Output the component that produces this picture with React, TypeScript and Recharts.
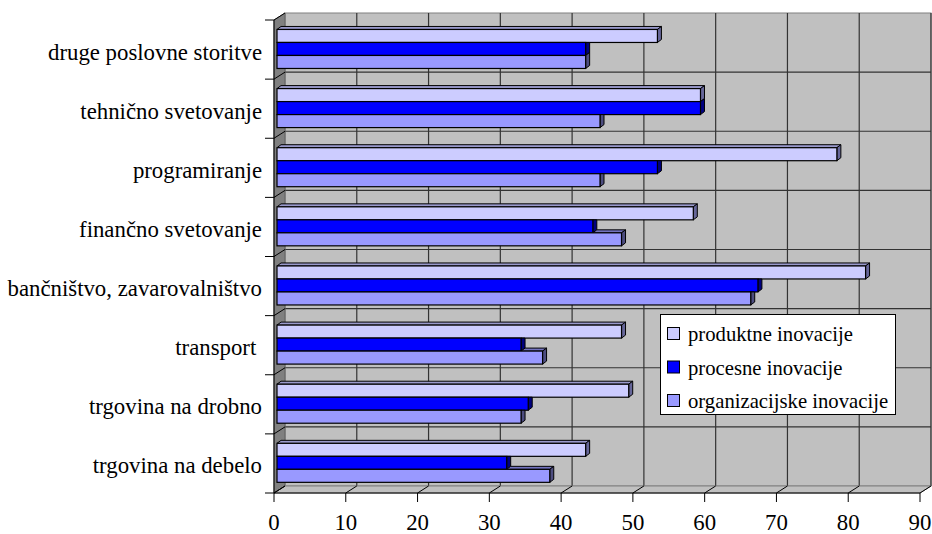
import React from 'react';
import { BarChart, Bar, XAxis, YAxis, ReferenceArea, Legend } from 'recharts';

const categories = [
  'druge poslovne storitve',
  'tehnično svetovanje',
  'programiranje',
  'finančno svetovanje',
  'bančništvo, zavarovalništvo',
  'transport ',
  'trgovina na drobno',
  'trgovina na debelo',
];
const produktne = [53, 59, 78, 58, 82, 48, 49, 43];
const procesne = [43, 59, 53, 44, 67, 34, 35, 32];
const organizacijske = [43, 45, 45, 48, 66, 37, 34, 38];
const xTicks = [0, 10, 20, 30, 40, 50, 60, 70, 80, 90];
const seriesNames = ['produktne inovacije', 'procesne inovacije', 'organizacijske inovacije'];

const data = categories.map((name, i) => ({
  name,
  produktne: produktne[i],
  procesne: procesne[i],
  organizacijske: organizacijske[i],
}));

const FONT = 'Liberation Serif, Times New Roman, DejaVu Serif, serif';
const XMAX = 90;
// 3D look: front edge sits left of the plot, back wall right/up of it
const FRONT = 3;
const BACK_DX = 8;
const BACK_DY = 7;
// bar depth
const DX = 4;
const DY = 3;

function Walls(props: any) {
  const { x, y, width, height } = props;
  const n = categories.length;
  const band = height / n;
  const fx = x - FRONT;
  const bx = x + BACK_DX;
  const by = y - BACK_DY;
  const bottom = y + height;
  const bb = bottom - BACK_DY;
  const px = (t: number) => (t / XMAX) * width;
  const bounds = Array.from({ length: n + 1 }, (_, j) => j);

  return (
    <g>
      <rect x={bx} y={by} width={width} height={height} fill="#c0c0c0" stroke="#808080" />
      {xTicks.slice(1).map((t) => (
        <line key={'v' + t} x1={bx + px(t)} x2={bx + px(t)} y1={by} y2={bb} stroke="#333" strokeWidth={1.2} />
      ))}
      {bounds.slice(1, n).map((j) => (
        <line key={'h' + j} x1={bx} x2={bx + width} y1={by + j * band} y2={by + j * band} stroke="#333" strokeWidth={1.2} />
      ))}
      <polygon
        points={`${fx},${y} ${bx},${by} ${bx},${bb} ${fx},${bottom}`}
        fill="#808080"
        stroke="#606060"
      />
      <polygon
        points={`${fx},${bottom} ${bx},${bb} ${bx + width},${bb} ${fx + width},${bottom}`}
        fill="#c0c0c0"
        stroke="#808080"
      />
      {xTicks.map((t) => (
        <g key={'f' + t}>
          <line x1={fx + px(t)} y1={bottom} x2={bx + px(t)} y2={bb} stroke="#000" />
          <line x1={fx + px(t)} y1={bottom} x2={fx + px(t)} y2={bottom + 9} stroke="#000" />
        </g>
      ))}
      {bounds.map((j) => (
        <g key={'s' + j}>
          <line x1={fx} y1={y + j * band} x2={bx} y2={by + j * band} stroke="#000" />
          <line x1={fx - 9} y1={y + j * band} x2={fx} y2={y + j * band} stroke="#000" />
        </g>
      ))}
      <line x1={fx} y1={y} x2={fx} y2={bottom} stroke="#000" />
      <line x1={fx} y1={bottom} x2={fx + width} y2={bottom} stroke="#000" />
    </g>
  );
}

function barShape(front: string, top: string, side: string, aboveKey?: string) {
  return (props: any) => {
    const { x, y, width, height, payload, value } = props;
    const v = Array.isArray(value) ? value[1] - value[0] : value;
    const ppu = v ? width / v : 0;
    const aboveW = aboveKey ? payload[aboveKey] * ppu : -1;
    const r = x + width;
    const b = y + height;
    const x0 = aboveKey ? x + Math.max(aboveW, 0) : x;
    const showTop = aboveW < width;
    const endPts =
      aboveW > width
        ? `${r},${y} ${r + DX},${y} ${r + DX},${b - DY} ${r},${b}`
        : `${r},${y} ${r + DX},${y - DY} ${r + DX},${b - DY} ${r},${b}`;
    return (
      <g>
        {showTop && (
          <polygon
            points={`${x0},${y} ${r},${y} ${r + DX},${y - DY} ${x0 + DX},${y - DY}`}
            fill={top}
            stroke="#000"
            strokeWidth={1}
          />
        )}
        <polygon points={endPts} fill={side} stroke="#000" strokeWidth={1} />
        <rect x={x} y={y} width={width} height={height} fill={front} stroke="#000" strokeWidth={1.2} />
      </g>
    );
  };
}

const CategoryTick = (props: any) => {
  const { x, y, payload } = props;
  return (
    <text
      x={x}
      y={y + 10}
      textAnchor="end"
      fontSize={22.8}
      fill="#000"
      style={{ whiteSpace: 'pre', fontFamily: FONT }}
    >
      {payload.value}
    </text>
  );
};

const ValueTick = (props: any) => {
  const { x, y, payload } = props;
  return (
    <text x={x - 3} y={y + 29} textAnchor="middle" fontSize={22.8} fill="#000" style={{ fontFamily: FONT }}>
      {payload.value}
    </text>
  );
};

const LegendBox = (props: any) => {
  const payload = [...(props.payload || [])].sort(
    (a: any, b: any) => seriesNames.indexOf(a.value) - seriesNames.indexOf(b.value),
  );
  return (
    <svg width={236} height={101} style={{ display: 'block' }}>
      <rect x={0.5} y={0.5} width={235} height={100} fill="#fff" stroke="#000" />
      {payload.map((p: any, i: number) => (
        <g key={p.value}>
          <rect x={7.5} y={13.5 + i * 33.5} width={12} height={12} fill={p.color} stroke="#000" />
          <text x={28} y={27 + i * 33.5} fontSize={20.7} fill="#000" style={{ fontFamily: FONT }}>
            {p.value}
          </text>
        </g>
      ))}
    </svg>
  );
};

export default function App() {
  return (
    <div>
      <style>{'body{margin:0}'}</style>
      <BarChart
        width={932}
        height={534}
        data={data}
        layout="vertical"
        margin={{ top: 20, right: 9, bottom: 0, left: 7 }}
        barCategoryGap="16%"
        barGap={0}
      >
        <XAxis
          type="number"
          domain={[0, XMAX]}
          ticks={xTicks}
          axisLine={false}
          tickLine={false}
          tickSize={6}
          tickMargin={2}
          height={41}
          tick={<ValueTick />}
        />
        <YAxis
          type="category"
          dataKey="name"
          width={270}
          axisLine={false}
          tickLine={false}
          tickSize={0}
          tickMargin={15}
          interval={0}
          tick={<CategoryTick />}
        />
        <ReferenceArea x1={0} x2={XMAX} ifOverflow="visible" shape={<Walls />} />
        <Legend
          layout="vertical"
          align="center"
          verticalAlign="middle"
          content={<LegendBox />}
          wrapperStyle={{ position: 'absolute', left: 660, top: 314, width: 236, height: 101 }}
        />
        <Bar
          dataKey="produktne"
          name={seriesNames[0]}
          fill="#ccccff"
          isAnimationActive={false}
          shape={barShape('#ccccff', '#9999cc', '#666699')}
        />
        <Bar
          dataKey="procesne"
          name={seriesNames[1]}
          fill="#0000ff"
          isAnimationActive={false}
          shape={barShape('#0000ff', '#0000b0', '#000080', 'produktne')}
        />
        <Bar
          dataKey="organizacijske"
          name={seriesNames[2]}
          fill="#9999ff"
          isAnimationActive={false}
          shape={barShape('#9999ff', '#7373bf', '#4d4d80', 'procesne')}
        />
      </BarChart>
    </div>
  );
}
